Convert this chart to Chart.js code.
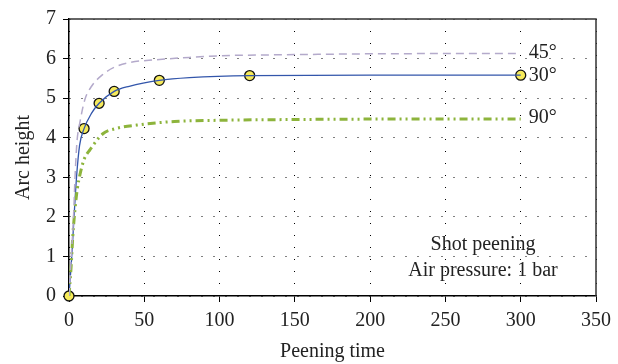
<!DOCTYPE html>
<html>
<head>
<meta charset="utf-8">
<script src="https://cdn.jsdelivr.net/npm/chart.js@4"></script>
<style>
  html, body { margin: 0; padding: 0; background: #fff; }
  #wrap { width: 618px; height: 364px; }
</style>
</head>
<body>
<div id="wrap"><canvas id="c"></canvas></div>
<script>
"use strict";

// measured points, 30 degrees
const timeMeasured = [0, 10, 20, 30, 60, 120, 300];
const height30Measured = [0, 4.23, 4.87, 5.17, 5.45, 5.57, 5.58];

// fitted curves
const time30 = [0, 2, 3.5, 5, 7, 10, 15, 20, 30, 40, 60, 80, 120, 200, 300];
const height30 = [0, 1.1, 2.1, 3.0, 3.8, 4.23, 4.62, 4.87, 5.17, 5.3, 5.45, 5.52, 5.57, 5.58, 5.58];

const time45 = [0, 1.5, 3, 4, 5.3, 7.3, 10.6, 15, 22.5, 30, 40, 58, 80, 100, 150, 200, 300];
const height45 = [0, 1.0, 2.0, 3.0, 3.9, 4.4, 4.97, 5.3, 5.6, 5.78, 5.9, 5.97, 6.03, 6.07, 6.1, 6.12, 6.13];

const time90 = [0, 1.5, 2.5, 4, 5.5, 7.3, 10, 14, 22.5, 30, 45, 70, 100, 150, 200, 300];
const height90 = [0, 0.8, 1.5, 2.2, 2.7, 3.07, 3.45, 3.7, 4.1, 4.22, 4.32, 4.41, 4.44, 4.46, 4.47, 4.47];

const curveLabels = ["45°", "30°", "90°"];
const xTicks = [0, 50, 100, 150, 200, 250, 300, 350];
const noteLines = ["Shot peening", "Air pressure: 1 bar"];

const FONT = "'Liberation Serif', 'DejaVu Serif', serif";

function pairs(xs, ys) {
    return xs.map((x, i) => ({ x: x, y: ys[i] }));
}

// frame, curve end labels and the note
const decorPlugin = {
    id: "decor",
    afterDraw(chart) {
        const ctx = chart.ctx, a = chart.chartArea;
        const xs = chart.scales.x, ys = chart.scales.y;
        ctx.save();
        ctx.strokeStyle = "#333";
        ctx.lineWidth = 1.5;
        ctx.beginPath();
        ctx.moveTo(a.left, a.top);
        ctx.lineTo(a.right, a.top);
        ctx.lineTo(a.right, a.bottom);
        ctx.stroke();

        ctx.fillStyle = "#222";
        ctx.font = "20px " + FONT;
        ctx.textBaseline = "middle";
        ctx.textAlign = "left";
        const ends = [
            [time45, height45, -1],
            [time30, height30, 1],
            [time90, height90, -1]
        ];
        ends.forEach((e, i) => {
            const lx = e[0][e[0].length - 1], ly = e[1][e[1].length - 1];
            ctx.fillText(curveLabels[i], xs.getPixelForValue(lx) + 8, ys.getPixelForValue(ly) + e[2]);
        });

        ctx.textAlign = "center";
        const cx = a.right - 113;
        ctx.fillText(noteLines[0], cx, a.bottom - 51);
        ctx.fillText(noteLines[1], cx, a.bottom - 25);
        ctx.restore();
    }
};

new Chart(document.getElementById("c"), {
    type: "line",
    data: {
        datasets: [{
            label: "45",
            data: pairs(time45, height45),
            borderColor: "#b4aacb",
            borderWidth: 1.5,
            borderDash: [8, 5],
            pointRadius: 0,
            cubicInterpolationMode: "monotone"
        }, {
            label: "90",
            data: pairs(time90, height90),
            borderColor: "#8db43c",
            borderWidth: 3,
            borderDash: [8, 4, 2, 4, 2, 4],
            pointRadius: 0,
            cubicInterpolationMode: "monotone"
        }, {
            label: "30",
            data: pairs(time30, height30),
            borderColor: "#3356ab",
            borderWidth: 1.3,
            pointRadius: 0,
            cubicInterpolationMode: "monotone"
        }, {
            label: "30 measured",
            data: pairs(timeMeasured, height30Measured),
            showLine: false,
            clip: false,
            pointRadius: 5,
            pointBackgroundColor: "#f6ea5a",
            pointBorderColor: "#111",
            pointBorderWidth: 1.3
        }]
    },
    options: {
        responsive: true,
        maintainAspectRatio: false,
        animation: false,
        events: [],
        layout: { padding: { top: 16, right: 20, left: 0, bottom: 0 } },
        plugins: {
            legend: { display: false },
            tooltip: { enabled: false }
        },
        scales: {
            x: {
                type: "linear",
                min: 0,
                max: 350,
                afterBuildTicks: s => { s.ticks = xTicks.map(v => ({ value: v })); },
                afterFit: s => { s.height = 68; },
                grid: { color: "#000", lineWidth: 1, tickLength: 6, tickColor: "#000" },
                border: { color: "#000", width: 1.5, dash: [1, 11] },
                ticks: { color: "#222", font: { family: FONT, size: 20 }, padding: 7, maxRotation: 0 },
                title: { display: true, text: "Peening time", color: "#222", font: { family: FONT, size: 20 }, padding: { top: 2, bottom: 0 } }
            },
            y: {
                min: 0,
                max: 7,
                ticks: { stepSize: 1, color: "#222", font: { family: FONT, size: 20 }, padding: 7 },
                afterFit: s => { s.width = 69; },
                grid: { color: "#000", lineWidth: 1, tickLength: 6, tickColor: "#000" },
                border: { color: "#000", width: 1.5, dash: [1, 11] },
                title: { display: true, text: "Arc height", color: "#222", font: { family: FONT, size: 20 }, padding: { top: 12, bottom: 0 } }
            }
        }
    },
    plugins: [decorPlugin]
});
</script>
</body>
</html>
